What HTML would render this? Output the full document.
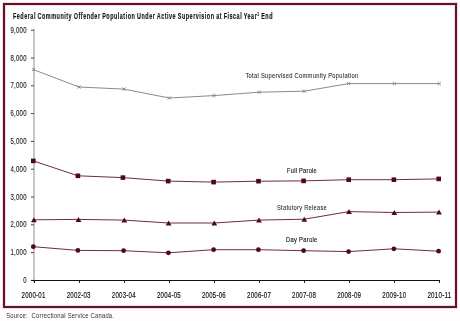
<!DOCTYPE html>
<html><head><meta charset="utf-8"><style>
html,body{margin:0;padding:0;width:460px;height:321px;overflow:hidden;background:#fffdfd;}
svg{position:absolute;left:0;top:0;will-change:transform;}
text{font-family:"Liberation Sans",sans-serif;fill:#1a1a1a;}
.yl{font-size:8.2px;fill:#222;stroke:#222;stroke-width:0.12px;letter-spacing:0.4px;}
.xl{font-size:8.2px;fill:#111;stroke:#111;stroke-width:0.15px;letter-spacing:0.3px;}
.sl{font-size:7.9px;fill:#1a1a1a;stroke:#222;stroke-width:0.06px;letter-spacing:0.4px;}
.tt{font-size:8.6px;font-weight:bold;stroke:#000;stroke-width:0.15px;letter-spacing:0.8px;word-spacing:-0.6px;}
.sup{font-size:5px;}
.src{font-size:7.8px;fill:#333;letter-spacing:0.3px;white-space:pre;}
</style></head><body>
<svg width="460" height="321" viewBox="0 0 460 321">
<rect x="0" y="0" width="460" height="321" fill="#fffdfd"/>
<rect x="4" y="4" width="452" height="303" fill="#ffffff" stroke="#f6dbe0" stroke-width="4"/><rect x="4" y="4" width="452" height="303" fill="none" stroke="#5e1626" stroke-width="2"/>
<line x1="34" y1="29" x2="34" y2="283" stroke="#c8c8c8" stroke-width="2"/>
<line x1="31" y1="280.4" x2="34" y2="280.4" stroke="#444" stroke-width="1"/>
<text x="26.9" y="283.0" text-anchor="end" class="yl" textLength="3.6" lengthAdjust="spacingAndGlyphs">0</text>
<line x1="31" y1="252.6" x2="34" y2="252.6" stroke="#444" stroke-width="1"/>
<text x="26.9" y="255.2" text-anchor="end" class="yl" textLength="16.5" lengthAdjust="spacingAndGlyphs">1,000</text>
<line x1="31" y1="224.8" x2="34" y2="224.8" stroke="#444" stroke-width="1"/>
<text x="26.9" y="227.4" text-anchor="end" class="yl" textLength="16.5" lengthAdjust="spacingAndGlyphs">2,000</text>
<line x1="31" y1="197.0" x2="34" y2="197.0" stroke="#444" stroke-width="1"/>
<text x="26.9" y="199.6" text-anchor="end" class="yl" textLength="16.5" lengthAdjust="spacingAndGlyphs">3,000</text>
<line x1="31" y1="169.2" x2="34" y2="169.2" stroke="#444" stroke-width="1"/>
<text x="26.9" y="171.8" text-anchor="end" class="yl" textLength="16.5" lengthAdjust="spacingAndGlyphs">4,000</text>
<line x1="31" y1="141.4" x2="34" y2="141.4" stroke="#444" stroke-width="1"/>
<text x="26.9" y="144.0" text-anchor="end" class="yl" textLength="16.5" lengthAdjust="spacingAndGlyphs">5,000</text>
<line x1="31" y1="113.6" x2="34" y2="113.6" stroke="#444" stroke-width="1"/>
<text x="26.9" y="116.2" text-anchor="end" class="yl" textLength="16.5" lengthAdjust="spacingAndGlyphs">6,000</text>
<line x1="31" y1="85.8" x2="34" y2="85.8" stroke="#444" stroke-width="1"/>
<text x="26.9" y="88.4" text-anchor="end" class="yl" textLength="16.5" lengthAdjust="spacingAndGlyphs">7,000</text>
<line x1="31" y1="58.0" x2="34" y2="58.0" stroke="#444" stroke-width="1"/>
<text x="26.9" y="60.6" text-anchor="end" class="yl" textLength="16.5" lengthAdjust="spacingAndGlyphs">8,000</text>
<line x1="31" y1="30.2" x2="34" y2="30.2" stroke="#444" stroke-width="1"/>
<text x="26.9" y="32.8" text-anchor="end" class="yl" textLength="16.5" lengthAdjust="spacingAndGlyphs">9,000</text>
<line x1="31" y1="280.5" x2="440" y2="280.5" stroke="#111" stroke-width="1"/>
<line x1="34.5" y1="280.5" x2="34.5" y2="283" stroke="#222" stroke-width="1"/>
<text x="33.6" y="297.8" text-anchor="middle" class="xl" textLength="24" lengthAdjust="spacingAndGlyphs">2000-01</text>
<line x1="79.5" y1="280.5" x2="79.5" y2="283" stroke="#222" stroke-width="1"/>
<text x="78.7" y="297.8" text-anchor="middle" class="xl" textLength="24" lengthAdjust="spacingAndGlyphs">2002-03</text>
<line x1="124.5" y1="280.5" x2="124.5" y2="283" stroke="#222" stroke-width="1"/>
<text x="123.8" y="297.8" text-anchor="middle" class="xl" textLength="24" lengthAdjust="spacingAndGlyphs">2003-04</text>
<line x1="169.5" y1="280.5" x2="169.5" y2="283" stroke="#222" stroke-width="1"/>
<text x="168.9" y="297.8" text-anchor="middle" class="xl" textLength="24" lengthAdjust="spacingAndGlyphs">2004-05</text>
<line x1="214.5" y1="280.5" x2="214.5" y2="283" stroke="#222" stroke-width="1"/>
<text x="214.0" y="297.8" text-anchor="middle" class="xl" textLength="24" lengthAdjust="spacingAndGlyphs">2005-06</text>
<line x1="259.5" y1="280.5" x2="259.5" y2="283" stroke="#222" stroke-width="1"/>
<text x="259.1" y="297.8" text-anchor="middle" class="xl" textLength="24" lengthAdjust="spacingAndGlyphs">2006-07</text>
<line x1="304.5" y1="280.5" x2="304.5" y2="283" stroke="#222" stroke-width="1"/>
<text x="304.1" y="297.8" text-anchor="middle" class="xl" textLength="24" lengthAdjust="spacingAndGlyphs">2007-08</text>
<line x1="349.5" y1="280.5" x2="349.5" y2="283" stroke="#222" stroke-width="1"/>
<text x="349.2" y="297.8" text-anchor="middle" class="xl" textLength="24" lengthAdjust="spacingAndGlyphs">2008-09</text>
<line x1="394.5" y1="280.5" x2="394.5" y2="283" stroke="#222" stroke-width="1"/>
<text x="394.3" y="297.8" text-anchor="middle" class="xl" textLength="24" lengthAdjust="spacingAndGlyphs">2009-10</text>
<line x1="439.5" y1="280.5" x2="439.5" y2="283" stroke="#222" stroke-width="1"/>
<text x="439.4" y="297.8" text-anchor="middle" class="xl" textLength="24" lengthAdjust="spacingAndGlyphs">2010-11</text>
<polyline points="33.5,69.6 78.9,87.0 123.9,89.1 169.3,98.0 213.9,95.6 259.3,92.2 304.3,91.2 348.6,83.6 394.3,83.6 439.3,83.6" fill="none" stroke="#8a8a8a" stroke-width="1"/>
<path d="M31.9,68.0L35.1,71.2M31.9,71.2L35.1,68.0" stroke="#808080" stroke-width="0.9"/>
<path d="M77.3,85.4L80.5,88.6M77.3,88.6L80.5,85.4" stroke="#808080" stroke-width="0.9"/>
<path d="M122.3,87.5L125.5,90.7M122.3,90.7L125.5,87.5" stroke="#808080" stroke-width="0.9"/>
<path d="M167.7,96.4L170.9,99.6M167.7,99.6L170.9,96.4" stroke="#808080" stroke-width="0.9"/>
<path d="M212.3,94.0L215.5,97.2M212.3,97.2L215.5,94.0" stroke="#808080" stroke-width="0.9"/>
<path d="M257.7,90.6L260.9,93.8M257.7,93.8L260.9,90.6" stroke="#808080" stroke-width="0.9"/>
<path d="M302.7,89.6L305.9,92.8M302.7,92.8L305.9,89.6" stroke="#808080" stroke-width="0.9"/>
<path d="M347.0,82.0L350.2,85.2M347.0,85.2L350.2,82.0" stroke="#808080" stroke-width="0.9"/>
<path d="M392.7,82.0L395.9,85.2M392.7,85.2L395.9,82.0" stroke="#808080" stroke-width="0.9"/>
<path d="M437.7,82.0L440.9,85.2M437.7,85.2L440.9,82.0" stroke="#808080" stroke-width="0.9"/>
<polyline points="33.3,160.9 77.9,175.8 122.9,177.6 168.2,181.1 213.6,182.1 258.5,181.2 303.6,180.9 348.7,179.7 393.9,179.7 438.7,178.9" fill="none" stroke="#6a3038" stroke-width="1"/>
<rect x="31.0" y="158.6" width="4.6" height="4.6" fill="#4e0a14"/>
<rect x="75.6" y="173.5" width="4.6" height="4.6" fill="#4e0a14"/>
<rect x="120.6" y="175.3" width="4.6" height="4.6" fill="#4e0a14"/>
<rect x="165.9" y="178.8" width="4.6" height="4.6" fill="#4e0a14"/>
<rect x="211.3" y="179.8" width="4.6" height="4.6" fill="#4e0a14"/>
<rect x="256.2" y="178.9" width="4.6" height="4.6" fill="#4e0a14"/>
<rect x="301.3" y="178.6" width="4.6" height="4.6" fill="#4e0a14"/>
<rect x="346.4" y="177.4" width="4.6" height="4.6" fill="#4e0a14"/>
<rect x="391.6" y="177.4" width="4.6" height="4.6" fill="#4e0a14"/>
<rect x="436.4" y="176.6" width="4.6" height="4.6" fill="#4e0a14"/>
<polyline points="33.9,219.8 78.5,219.4 124.3,220.1 168.6,223.0 214.3,223.0 259.0,220.1 304.3,219.2 349.0,211.6 394.3,212.5 439.0,212.1" fill="none" stroke="#6a3038" stroke-width="1"/>
<path d="M33.9,217.3L36.8,222.3L31.0,222.3Z" fill="#4e0a14"/>
<path d="M78.5,216.9L81.4,221.9L75.6,221.9Z" fill="#4e0a14"/>
<path d="M124.3,217.6L127.2,222.6L121.4,222.6Z" fill="#4e0a14"/>
<path d="M168.6,220.5L171.5,225.5L165.7,225.5Z" fill="#4e0a14"/>
<path d="M214.3,220.5L217.2,225.5L211.4,225.5Z" fill="#4e0a14"/>
<path d="M259.0,217.6L261.9,222.6L256.1,222.6Z" fill="#4e0a14"/>
<path d="M304.3,216.7L307.2,221.7L301.4,221.7Z" fill="#4e0a14"/>
<path d="M349.0,209.1L351.9,214.1L346.1,214.1Z" fill="#4e0a14"/>
<path d="M394.3,210.0L397.2,215.0L391.4,215.0Z" fill="#4e0a14"/>
<path d="M439.0,209.6L441.9,214.6L436.1,214.6Z" fill="#4e0a14"/>
<polyline points="33.3,246.7 77.9,250.4 123.6,250.7 168.4,252.8 213.6,249.7 258.4,249.7 303.6,250.7 348.6,251.6 393.9,248.8 438.6,251.2" fill="none" stroke="#6a3038" stroke-width="1"/>
<circle cx="33.3" cy="246.7" r="2.4" fill="#4e0a14"/>
<circle cx="77.9" cy="250.4" r="2.4" fill="#4e0a14"/>
<circle cx="123.6" cy="250.7" r="2.4" fill="#4e0a14"/>
<circle cx="168.4" cy="252.8" r="2.4" fill="#4e0a14"/>
<circle cx="213.6" cy="249.7" r="2.4" fill="#4e0a14"/>
<circle cx="258.4" cy="249.7" r="2.4" fill="#4e0a14"/>
<circle cx="303.6" cy="250.7" r="2.4" fill="#4e0a14"/>
<circle cx="348.6" cy="251.6" r="2.4" fill="#4e0a14"/>
<circle cx="393.9" cy="248.8" r="2.4" fill="#4e0a14"/>
<circle cx="438.6" cy="251.2" r="2.4" fill="#4e0a14"/>
<text x="245.4" y="78.2" class="sl" textLength="113" lengthAdjust="spacingAndGlyphs">Total Supervised Community Population</text>
<text x="287" y="173" class="sl" style="font-size:8px;stroke:#111;stroke-width:0.18px" textLength="30" lengthAdjust="spacingAndGlyphs">Full Parole</text>
<text x="277" y="210.3" class="sl" textLength="50" lengthAdjust="spacingAndGlyphs">Statutory Release</text>
<text x="286" y="241.7" class="sl" style="font-size:8px;stroke:#111;stroke-width:0.18px" textLength="31.5" lengthAdjust="spacingAndGlyphs">Day Parole</text>
<text x="13" y="19.3" class="tt" textLength="260" lengthAdjust="spacingAndGlyphs">Federal Community Offender Population Under Active Supervision at Fiscal Year<tspan class="sup" dy="-3">1</tspan><tspan dy="3"> End</tspan></text>
<text x="6.2" y="318.3" class="src" textLength="108" lengthAdjust="spacingAndGlyphs">Source:  Correctional Service Canada.</text>
</svg>
</body></html>
